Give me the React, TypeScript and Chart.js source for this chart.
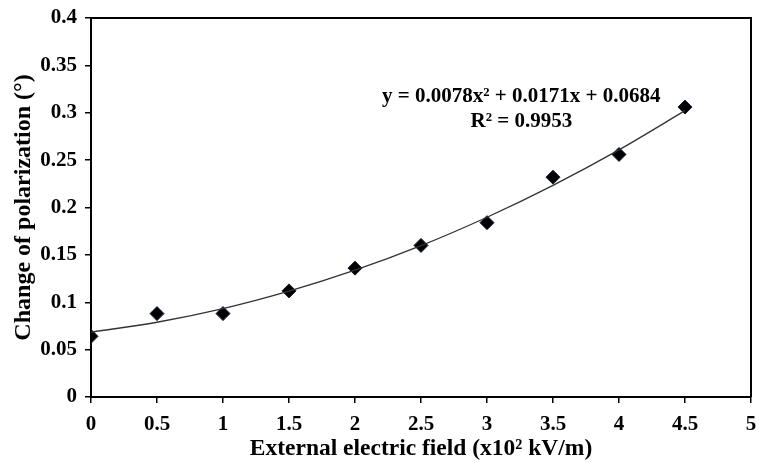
import React, { useEffect, useRef } from "react";
import { Chart, registerables } from "chart.js";

Chart.register(...registerables);

const fieldValues = [0, 0.5, 1, 1.5, 2, 2.5, 3, 3.5, 4, 4.5];
const polarizationChange = [0.064, 0.088, 0.088, 0.112, 0.136, 0.16, 0.184, 0.232, 0.256, 0.306];
const trendX = [0, 0.5, 1, 1.5, 2, 2.5, 3, 3.5, 4, 4.5];
const trendY = [0.0684, 0.0789, 0.0933, 0.1117, 0.1338, 0.1597, 0.1897, 0.2234, 0.2608, 0.3022];
const equationLines = ["y = 0.0078x² + 0.0171x + 0.0684", "R² = 0.9953"];
const xTitle = "External electric field (x10² kV/m)";
const yTitle = "Change of polarization (°)";

const FONT = "'Liberation Serif', 'Times New Roman', serif";

const frameAndText = {
  id: "frameAndText",
  afterDraw(chart: any) {
    const { ctx, chartArea: a, scales } = chart;
    ctx.save();
    ctx.strokeStyle = "#000";
    ctx.lineWidth = 2;
    ctx.beginPath();
    ctx.moveTo(a.left, a.top);
    ctx.lineTo(a.right, a.top);
    ctx.lineTo(a.right, a.bottom);
    ctx.stroke();
    ctx.fillStyle = "#000";
    ctx.font = `bold 21px ${FONT}`;
    ctx.textAlign = "center";
    ctx.textBaseline = "middle";
    const cx = scales.x.getPixelForValue(3.26);
    ctx.fillText(equationLines[0], cx, scales.y.getPixelForValue(0.317));
    ctx.fillText(equationLines[1], cx, scales.y.getPixelForValue(0.291));
    ctx.restore();
  },
};

export default function App() {
  const ref = useRef<HTMLCanvasElement>(null);
  useEffect(() => {
    const chart = new Chart(ref.current!, {
      type: "scatter",
      data: {
        datasets: [
          {
            type: "line",
            label: "trend",
            data: trendX.map((x, i) => ({ x, y: trendY[i] })),
            borderColor: "#333",
            borderWidth: 1.3,
            pointRadius: 0,
            tension: 0.4,
            cubicInterpolationMode: "monotone",
            fill: false,
          } as any,
          {
            label: "data",
            data: fieldValues.map((x, i) => ({ x, y: polarizationChange[i] })),
            pointStyle: "rectRot",
            pointRadius: 7,
            backgroundColor: "#000",
            borderColor: "#0a1a3a",
            borderWidth: 1,
          },
        ],
      },
      options: {
        animation: false,
        responsive: true,
        maintainAspectRatio: false,
        layout: { padding: { left: 0, right: 5, top: 18, bottom: 0 } },
        plugins: { legend: { display: false }, tooltip: { enabled: false } },
        scales: {
          x: {
            type: "linear",
            min: 0,
            max: 5,
            afterFit: (s: any) => { s.height = 66; s.paddingLeft = 0; s.paddingRight = 0; },
            ticks: {
              stepSize: 0.5,
              color: "#000",
              font: { family: FONT, size: 21, weight: "bold" },
              padding: 9,
              maxRotation: 0,
              callback: (v: any) => String(Math.round(v * 10) / 10),
            },
            grid: { display: true, drawOnChartArea: false, drawTicks: true, tickLength: 6, color: "#000", lineWidth: 1.5 },
            border: { display: true, color: "#000", width: 2 },
            title: {
              display: true,
              text: xTitle,
              color: "#000",
              font: { family: FONT, size: 23.5, weight: "bold" },
              padding: { top: 0, bottom: 0 },
            },
          },
          y: {
            type: "linear",
            min: 0,
            max: 0.4,
            afterFit: (s: any) => { s.width = 91; s.paddingTop = 0; s.paddingBottom = 0; },
            ticks: {
              stepSize: 0.05,
              color: "#000",
              font: { family: FONT, size: 21, weight: "bold" },
              padding: 8,
              callback: (v: any) => String(Math.round(v * 100) / 100),
            },
            grid: { display: true, drawOnChartArea: false, drawTicks: true, tickLength: 6, color: "#000", lineWidth: 1.5 },
            border: { display: true, color: "#000", width: 2 },
            title: {
              display: true,
              text: yTitle,
              color: "#000",
              font: { family: FONT, size: 24, weight: "bold" },
              padding: { top: 9, bottom: 0 },
            },
          },
        },
      },
      plugins: [frameAndText],
    } as any);
    return () => chart.destroy();
  }, []);
  return (
    <div style={{ position: "fixed", left: 0, top: 0, width: 759, height: 463, background: "#fff" }}>
      <canvas ref={ref} />
    </div>
  );
}
